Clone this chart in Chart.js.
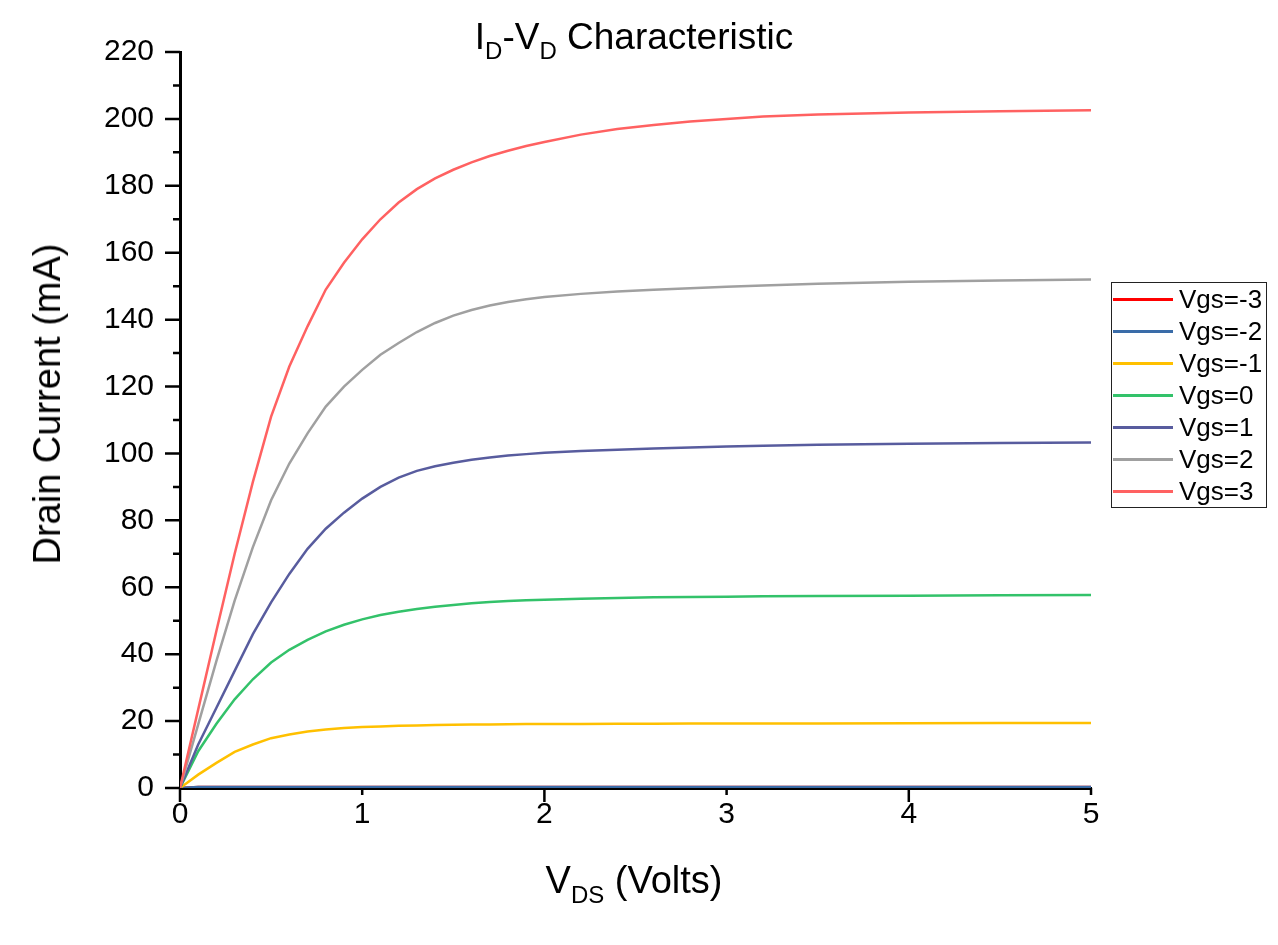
<!DOCTYPE html>
<html>
<head>
<meta charset="utf-8">
<title>ID-VD Characteristic</title>
<script src="https://cdn.jsdelivr.net/npm/chart.js@4.4.0/dist/chart.umd.min.js"></script>
<style>
    body { margin: 0; background: #fff; font-family: "Liberation Sans", Arial, sans-serif; }
    #wrap { position: relative; width: 1278px; height: 945px; }
    #chart { position: absolute; left: 0; top: 0; }
    .lbl { position: absolute; white-space: nowrap; font-size: 37px; line-height: 1; color: #000; }
    .lbl sub { font-size: 24px; vertical-align: baseline; position: relative; top: 10px; }
    #title { left: 634px; top: 18px; transform: translateX(-50%); }
    #xTitle { left: 634px; top: 861px; font-size: 38px; transform: translateX(-50%); }
    #yTitle { left: 47px; top: 404px; font-size: 38px; transform: translate(-50%, -50%) rotate(-90deg); }
    #legend { position: absolute; left: 1111px; top: 282px; width: 154px; height: 224px;
              border: 1px solid #222; font-size: 26px; color: #000; }
    #legend .row { height: 32px; display: flex; align-items: center; }
    #legend .swatch { width: 60px; height: 3px; margin-left: 1px; margin-right: 6px; }
    #legend .txt { line-height: 32px; }
</style>
</head>
<body>
<div id="wrap">
    <canvas id="chart" width="1278" height="945"></canvas>
    <div class="lbl" id="title">I<sub>D</sub>-V<sub>D</sub> Characteristic</div>
    <div class="lbl" id="xTitle">V<sub>DS</sub> (Volts)</div>
    <div class="lbl" id="yTitle">Drain Current (mA)</div>
    <div id="legend"></div>
</div>
<script>
// drain voltage (V)
const volts = [0, 0.1, 0.2, 0.3, 0.4, 0.5, 0.6, 0.7, 0.8, 0.9, 1.0, 1.1, 1.2, 1.3, 1.4, 1.5, 1.6, 1.7, 1.8, 1.9, 2.0,
               2.2, 2.4, 2.6, 2.8, 3.0, 3.2, 3.5, 4.0, 4.5, 5.0];

// drain current (mA), one list per gate voltage
const vgsM3 = [0, 0.3, 0.3, 0.3, 0.3, 0.3, 0.3, 0.3, 0.3, 0.3, 0.3, 0.3, 0.3, 0.3, 0.3, 0.3, 0.3, 0.3, 0.3, 0.3, 0.3,
               0.3, 0.3, 0.3, 0.3, 0.3, 0.3, 0.3, 0.3, 0.3, 0.3];
const vgsM2 = [0, 0.3, 0.3, 0.3, 0.3, 0.3, 0.3, 0.3, 0.3, 0.3, 0.3, 0.3, 0.3, 0.3, 0.3, 0.3, 0.3, 0.3, 0.3, 0.3, 0.3,
               0.3, 0.3, 0.3, 0.3, 0.3, 0.3, 0.3, 0.3, 0.3, 0.3];
const vgsM1 = [0, 4, 7.5, 10.8, 13, 14.9, 16, 16.9, 17.5, 17.9, 18.2, 18.4, 18.6, 18.7, 18.8, 18.9, 18.95, 19, 19.05, 19.1, 19.1,
               19.15, 19.2, 19.2, 19.25, 19.25, 19.3, 19.3, 19.35, 19.4, 19.4];
const vgs0  = [0, 11, 19.2, 26.5, 32.5, 37.5, 41.3, 44.3, 46.8, 48.8, 50.4, 51.7, 52.7, 53.5, 54.2, 54.7, 55.2, 55.6, 55.9, 56.1, 56.3,
               56.6, 56.8, 57, 57.1, 57.2, 57.3, 57.4, 57.5, 57.6, 57.7];
const vgs1  = [0, 13, 24, 35, 46, 55.5, 64, 71.5, 77.5, 82.3, 86.5, 90, 92.8, 94.8, 96.2, 97.2, 98.1, 98.8, 99.4, 99.8, 100.2,
               100.7, 101.1, 101.5, 101.8, 102.1, 102.3, 102.6, 102.9, 103.1, 103.3];
const vgs2  = [0, 19, 38, 56, 72, 86, 97, 106, 114, 120, 125, 129.5, 133, 136.3, 139, 141.2, 142.9, 144.2, 145.3, 146.1, 146.8,
               147.7, 148.4, 148.9, 149.4, 149.8, 150.2, 150.7, 151.3, 151.7, 152];
const vgs3  = [0, 23.5, 47, 70, 91.5, 111, 126, 138, 149, 157, 164, 170, 175, 179, 182.2, 184.8, 187, 188.9, 190.5, 191.9, 193.1,
               195.3, 197, 198.2, 199.2, 200, 200.7, 201.3, 201.9, 202.3, 202.6];

const seriesNames  = ["Vgs=-3", "Vgs=-2", "Vgs=-1", "Vgs=0", "Vgs=1", "Vgs=2", "Vgs=3"];
const seriesValues = [vgsM3, vgsM2, vgsM1, vgs0, vgs1, vgs2, vgs3];
const seriesColors = ["#FF0000", "#3A6CA8", "#FFC000", "#33C26A", "#585C9E", "#A0A0A0", "#FF6161"];

// tick values
const yMajor = [0, 20, 40, 60, 80, 100, 120, 140, 160, 180, 200, 220];
const yMinor = [10, 30, 50, 70, 90, 110, 130, 150, 170, 190, 210];
const xMajor = [0, 2, 4];
const xMinor = [1, 3, 5];

const fontFamily = "'Liberation Sans', Arial, sans-serif";

// Origin-style outward tick marks (long major / short minor)
const axisTicks = {
    id: "axisTicks",
    afterDraw(chart) {
        const { ctx, scales: { x, y } } = chart;
        const left = x.left, bottom = y.bottom;
        ctx.save();
        ctx.strokeStyle = "#000";
        ctx.lineWidth = 2.5;
        ctx.beginPath();
        yMajor.forEach(v => { const p = y.getPixelForValue(v); ctx.moveTo(left - 15, p); ctx.lineTo(left, p); });
        yMinor.forEach(v => { const p = y.getPixelForValue(v); ctx.moveTo(left - 7, p); ctx.lineTo(left, p); });
        xMajor.forEach(v => { const p = x.getPixelForValue(v); ctx.moveTo(p, bottom); ctx.lineTo(p, bottom + 14); });
        xMinor.forEach(v => { const p = x.getPixelForValue(v); ctx.moveTo(p, bottom); ctx.lineTo(p, bottom + 7); });
        ctx.stroke();
        ctx.restore();
    }
};

const ctx = document.getElementById("chart").getContext("2d");
const chart = new Chart(ctx, {
    type: "line",
    data: {
        datasets: seriesNames.map((name, i) => ({
            label: name,
            data: volts.map((v, j) => ({ x: v, y: seriesValues[i][j] })),
            borderColor: seriesColors[i],
            backgroundColor: seriesColors[i],
            borderWidth: 2.5,
            pointRadius: 0,
            tension: 0,
            fill: false,
            order: -i   // later series on top
        }))
    },
    options: {
        responsive: false,
        animation: false,
        layout: { padding: { left: 0, right: 187, top: 52, bottom: 0 } },
        plugins: {
            legend: { display: false },
            tooltip: { enabled: false },
            title: { display: false }
        },
        scales: {
            x: {
                type: "linear",
                min: 0,
                max: 5,
                grid: { display: false, drawTicks: false },
                border: { display: true, color: "#000", width: 3 },
                ticks: { stepSize: 1, color: "#000", padding: 9, maxRotation: 0,
                         font: { family: fontFamily, size: 30 } },
                afterFit: s => { s.height = 157; }
            },
            y: {
                min: 0,
                max: 220,
                grid: { display: false, drawTicks: false },
                border: { display: true, color: "#000", width: 3 },
                ticks: { stepSize: 20, color: "#000", padding: 26,
                         font: { family: fontFamily, size: 30 } },
                afterFit: s => { s.width = 180; }
            }
        }
    },
    plugins: [axisTicks]
});

// boxed legend on the right, built from the chart datasets
const legendDiv = document.getElementById("legend");
chart.data.datasets.forEach(ds => {
    const row = document.createElement("div");
    row.className = "row";
    const sw = document.createElement("span");
    sw.className = "swatch";
    sw.style.background = ds.borderColor;
    const txt = document.createElement("span");
    txt.className = "txt";
    txt.textContent = ds.label;
    row.appendChild(sw);
    row.appendChild(txt);
    legendDiv.appendChild(row);
});
</script>
</body>
</html>
